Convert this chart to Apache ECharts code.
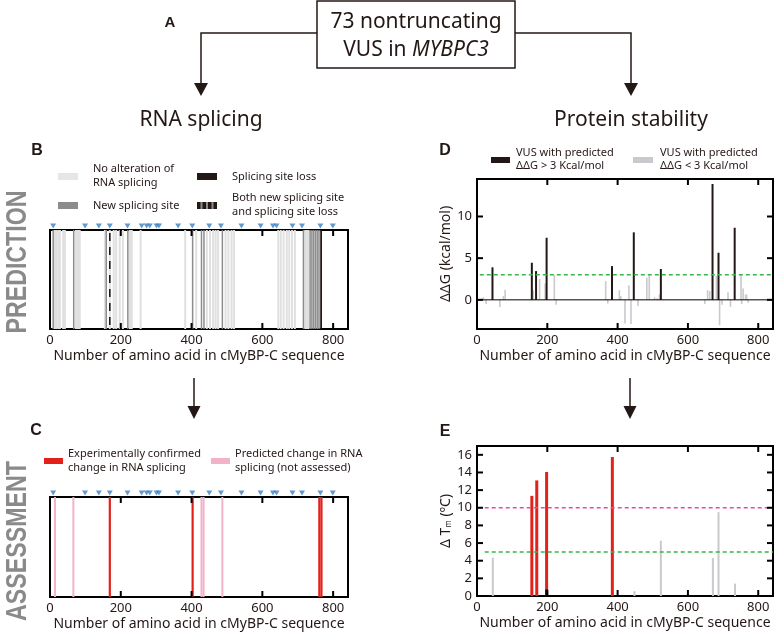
<!DOCTYPE html>
<html><head><meta charset="utf-8">
<script src="https://cdn.jsdelivr.net/npm/echarts@6/dist/echarts.min.js"></script>
<style>html,body{margin:0;padding:0;background:#fff}#c{width:777px;height:633px}</style>
</head><body><div id="c"></div>
<script>
// ---------- DATA ----------
const X_MAX = 842;
const xTickLabels = [0, 200, 400, 600, 800];
const xTickMarks = [200, 400, 600, 800];
// exon-boundary markers (blue triangles) above panels B and C
const exonMarks = [9, 99, 138, 169, 219, 259, 273, 282, 301, 308, 362, 402, 450, 483, 541, 595, 630, 640, 685, 712, 764, 799];
// Panel B: predicted splicing effects (amino-acid positions)
const bNoAlteration = [14, 19, 24, 28, 37, 42, 73, 77, 81, 84, 155, 180, 187, 197, 206, 226, 231, 256, 382, 413, 443, 452, 461, 468, 475, 496, 504, 513, 520, 645, 652, 660, 669, 676, 684, 692, 721, 726, 730];
const bNewSite = [9, 67, 159, 220, 403, 428, 435, 487, 716, 735, 740, 745, 750, 755, 760];
const bSiteLoss = [766];
const bBoth = [169];
// Panel C: assessment
const cConfirmed = [169, 403, 761, 767];
const cPredicted = [14, 66, 428, 434, 487];
// Panel D: ddG (kcal/mol)
const dHighPos = [44, 156, 168, 198, 384, 446, 523, 670, 687, 733];
const dHighVal = [3.9, 4.45, 3.45, 7.45, 4.05, 8.1, 3.7, 13.9, 5.65, 8.65];
const dLowPos = [18, 26, 65, 75, 80, 160, 178, 194, 220, 225, 366, 372, 405, 409, 421, 432, 438, 458, 483, 490, 505, 512, 519, 648, 656, 662, 681, 690, 697, 714, 721, 751, 753, 757, 764, 767, 771];
const dLowVal = [0.3, -0.5, -0.85, 0.45, 1.2, 1.15, 2.5, 1.95, 3.0, -0.6, 2.25, -0.45, 1.15, 0.45, -2.85, 1.75, -2.9, -0.75, 2.65, 2.95, 0.3, 0.2, 0.65, -0.5, 1.15, 1.05, 2.85, -3.05, -0.6, 0.9, -0.85, 3.0, -0.5, 1.35, 0.65, 0.6, -0.35];
const dThreshold = 3;
const dYMin = -3.5, dYMax = 14.5;
const dYLabels = [0, 5, 10];
// Panel E: delta Tm (degC)
const eRedPos = [156, 170, 198, 385];
const eRedVal = [11.35, 13.1, 14.05, 15.75];
const eGrayPos = [45, 448, 523, 671, 687, 734];
const eGrayVal = [4.35, 0.55, 6.25, 4.3, 9.5, 1.4];
const eDarkPos = [198];
const eDarkVal = [0.75];
const eThresholdHigh = 10;
const eThresholdLow = 5;
const eYMin = 0, eYMax = 17;
const eYLabels = [0, 2, 4, 6, 8, 10, 12, 14, 16];
const eYTickMarks = [2, 4, 6, 8, 10, 12, 14, 16];

// ---------- STYLE ----------
const FONT = "'Noto Sans', sans-serif";
const INK = '#231815';
const LIGHT = '#e0e0e0', MID = '#8c8c8c', BAR_LIGHT = '#c9c9ce', RED = '#e3211c', PINK = '#f2b3c8', GREEN = '#39b54a', MAGENTA = '#ec4a9c', BLUE = '#3b7fc4';
const TICK = '#000000';

const pairs = (xs, ys) => xs.map((x, i) => [x, ys[i]]);

function vline(color, width) {
  return function (params, api) {
    const x = api.value(0);
    const t = api.coord([x, 1]), b = api.coord([x, 0]);
    return { type: 'rect', shape: { x: t[0] - width / 2, y: t[1], width: width, height: b[1] - t[1] }, style: { fill: color } };
  };
}
function vdash(params, api) {
  const x = api.value(0);
  const t = api.coord([x, 1]), b = api.coord([x, 0]);
  return { type: 'group', children: [
    { type: 'rect', shape: { x: t[0] - 1, y: t[1], width: 2, height: b[1] - t[1] }, style: { fill: LIGHT } },
    { type: 'line', shape: { x1: t[0], y1: t[1] + 3, x2: b[0], y2: b[1] }, style: { stroke: INK, lineWidth: 1.6, lineDash: [8, 6] } }
  ] };
}
function vbar(color, width) {
  return function (params, api) {
    const x = api.value(0), y = api.value(1);
    const a = api.coord([x, 0]), b = api.coord([x, y]);
    return { type: 'rect', shape: { x: a[0] - width / 2, y: Math.min(a[1], b[1]), width: width, height: Math.abs(a[1] - b[1]) }, style: { fill: color } };
  };
}

const gridBase = { show: true, borderColor: '#000', borderWidth: 2, backgroundColor: 'rgba(0,0,0,0)' };
const noLine = { show: false, onZero: false };

function xBottom(gi) {
  return { type: 'value', gridIndex: gi, position: 'bottom', min: 0, max: X_MAX,
    axisLine: noLine, splitLine: { show: false }, axisTick: { show: false },
    axisLabel: { customValues: xTickLabels, fontSize: 13, color: INK, fontFamily: FONT, margin: 5 },
    name: 'Number of amino acid in cMyBP-C sequence', nameLocation: 'middle', nameGap: 20,
    nameTextStyle: { fontSize: 14, color: INK, fontFamily: FONT } };
}
function yHidden(gi) {
  return { type: 'value', gridIndex: gi, min: 0, max: 1, show: false, axisLine: noLine };
}

const markerSeries = (xi, yi) => ({
  type: 'scatter', xAxisIndex: xi, yAxisIndex: yi, clip: false, z: 12,
  symbol: 'path://M0,0L10,0L5,8Z', symbolSize: [6, 5], symbolOffset: [0, -4],
  itemStyle: { color: BLUE }, data: exonMarks.map(v => [v, 1]), silent: true
});

const option = {
  animation: false,
  backgroundColor: '#fff',
  grid: [
    Object.assign({ left: 50, top: 230, width: 298, height: 99 }, gridBase),
    Object.assign({ left: 50, top: 497, width: 298, height: 100 }, gridBase),
    Object.assign({ left: 477, top: 179, width: 296, height: 150 }, gridBase),
    Object.assign({ left: 477, top: 446, width: 296, height: 150 }, gridBase)
  ],
  xAxis: [xBottom(0), xBottom(1), xBottom(2), xBottom(3)],
  yAxis: [
    yHidden(0), yHidden(1),
    { type: 'value', gridIndex: 2, position: 'left', min: dYMin, max: dYMax, axisLine: noLine, splitLine: { show: false }, axisTick: { show: false },
      axisLabel: { customValues: dYLabels, fontSize: 13, color: INK, fontFamily: FONT, margin: 5 },
      name: 'ΔΔG (kcal/mol)', nameLocation: 'middle', nameRotate: 90, nameGap: 22,
      nameTextStyle: { fontSize: 14, color: INK, fontFamily: FONT } },
    { type: 'value', gridIndex: 3, position: 'left', min: eYMin, max: eYMax, axisLine: noLine, splitLine: { show: false }, axisTick: { show: false },
      axisLabel: { customValues: eYLabels, fontSize: 13, color: INK, fontFamily: FONT, margin: 5 },
      name: '{a|Δ T}{s|m}{a| (ºC)}', nameLocation: 'middle', nameRotate: 90, nameGap: 24,
      nameTextStyle: { color: INK, fontFamily: FONT, rich: { a: { fontSize: 14, fontFamily: FONT, color: INK }, s: { fontSize: 8, fontFamily: FONT, color: INK, padding: [6, 0, 0, 0] } } } }
  ],
  series: [
    // Panel B
    { type: 'custom', xAxisIndex: 0, yAxisIndex: 0, renderItem: vline(LIGHT, 2), data: bNoAlteration.map(v => [v, 1]) },
    { type: 'custom', xAxisIndex: 0, yAxisIndex: 0, renderItem: vline(MID, 1.5), data: bNewSite.map(v => [v, 1]) },
    { type: 'custom', xAxisIndex: 0, yAxisIndex: 0, renderItem: vline(INK, 1.8), data: bSiteLoss.map(v => [v, 1]) },
    { type: 'custom', xAxisIndex: 0, yAxisIndex: 0, renderItem: vdash, data: bBoth.map(v => [v, 1]) },
    markerSeries(0, 0),
    // Panel C
    { type: 'custom', xAxisIndex: 1, yAxisIndex: 1, renderItem: vline(PINK, 2), data: cPredicted.map(v => [v, 1]) },
    { type: 'custom', xAxisIndex: 1, yAxisIndex: 1, renderItem: vline(RED, 2.2), data: cConfirmed.map(v => [v, 1]) },
    markerSeries(1, 1),
    // Panel D
    { type: 'custom', xAxisIndex: 2, yAxisIndex: 2, renderItem: vbar(BAR_LIGHT, 1.6), data: pairs(dLowPos, dLowVal) },
    { type: 'custom', xAxisIndex: 2, yAxisIndex: 2, renderItem: vbar(INK, 2), data: pairs(dHighPos, dHighVal) },
    { type: 'line', xAxisIndex: 2, yAxisIndex: 2, symbol: 'none', z: 4, lineStyle: { color: '#000', width: 1 }, data: [[0, 0], [X_MAX, 0]] },
    { type: 'line', xAxisIndex: 2, yAxisIndex: 2, symbol: 'none', z: 5, lineStyle: { color: GREEN, width: 1.5, type: [4, 3] }, data: [[8, dThreshold], [X_MAX, dThreshold]] },
    // Panel E
    { type: 'custom', xAxisIndex: 3, yAxisIndex: 3, renderItem: vbar(BAR_LIGHT, 2), data: pairs(eGrayPos, eGrayVal) },
    { type: 'custom', xAxisIndex: 3, yAxisIndex: 3, renderItem: vbar(RED, 3), data: pairs(eRedPos, eRedVal) },
    { type: 'custom', xAxisIndex: 3, yAxisIndex: 3, renderItem: vbar(INK, 3), data: pairs(eDarkPos, eDarkVal) },
    { type: 'line', xAxisIndex: 3, yAxisIndex: 3, symbol: 'none', z: 5, lineStyle: { color: MAGENTA, width: 1.5, type: [4, 3] }, data: [[22, eThresholdHigh], [X_MAX, eThresholdHigh]] },
    { type: 'line', xAxisIndex: 3, yAxisIndex: 3, symbol: 'none', z: 5, lineStyle: { color: GREEN, width: 1.5, type: [4, 3] }, data: [[22, eThresholdLow], [X_MAX, eThresholdLow]] }
  ],
  graphic: [
    // flowchart
    { type: 'rect', shape: { x: 317, y: 1, width: 198, height: 67 }, style: { fill: 'none', stroke: INK, lineWidth: 1.5 } },
    { type: 'text', x: 416, y: 22, style: { text: '73 nontruncating', font: "21px 'Noto Sans'", fill: INK, align: 'center', verticalAlign: 'middle' } },
    { type: 'text', x: 416, y: 50, style: { text: '{n|VUS in }{i|MYBPC3}', align: 'center', verticalAlign: 'middle',
        rich: { n: { fontSize: 21, fontFamily: FONT, fill: INK }, i: { fontSize: 21, fontFamily: FONT, fontStyle: 'italic', fill: INK } } } },
    { type: 'polyline', shape: { points: [[317, 33], [201, 33], [201, 85]] }, style: { stroke: INK, lineWidth: 1.5, fill: 'none' } },
    { type: 'polygon', shape: { points: [[194, 83], [208, 83], [201, 96]] }, style: { fill: INK } },
    { type: 'polyline', shape: { points: [[515, 33], [631, 33], [631, 85]] }, style: { stroke: INK, lineWidth: 1.5, fill: 'none' } },
    { type: 'polygon', shape: { points: [[624, 83], [638, 83], [631, 96]] }, style: { fill: INK } },
    { type: 'text', x: 201, y: 120, style: { text: 'RNA splicing', font: "21px 'Noto Sans'", fill: INK, align: 'center', verticalAlign: 'middle' } },
    { type: 'text', x: 631, y: 120, style: { text: 'Protein stability', font: "21px 'Noto Sans'", fill: INK, align: 'center', verticalAlign: 'middle' } },
    // between-panel arrows
    { type: 'line', shape: { x1: 194, y1: 378, x2: 194, y2: 408 }, style: { stroke: INK, lineWidth: 1.5 } },
    { type: 'polygon', shape: { points: [[187.5, 406], [200.5, 406], [194, 419]] }, style: { fill: INK } },
    { type: 'line', shape: { x1: 630, y1: 378, x2: 630, y2: 408 }, style: { stroke: INK, lineWidth: 1.5 } },
    { type: 'polygon', shape: { points: [[623.5, 406], [636.5, 406], [630, 419]] }, style: { fill: INK } },
    // panel letters
    { type: 'text', x: 170, y: 23, style: { text: 'A', font: "bold 15px 'Liberation Sans'", fill: INK, align: 'center', verticalAlign: 'middle' } },
    { type: 'text', x: 37, y: 151, style: { text: 'B', font: "bold 16px 'Liberation Sans'", fill: INK, align: 'center', verticalAlign: 'middle' } },
    { type: 'text', x: 36, y: 431, style: { text: 'C', font: "bold 16px 'Liberation Sans'", fill: INK, align: 'center', verticalAlign: 'middle' } },
    { type: 'text', x: 445, y: 151, style: { text: 'D', font: "bold 16px 'Liberation Sans'", fill: INK, align: 'center', verticalAlign: 'middle' } },
    { type: 'text', x: 445, y: 432, style: { text: 'E', font: "bold 16px 'Liberation Sans'", fill: INK, align: 'center', verticalAlign: 'middle' } },
    // side labels
    { type: 'text', x: 17.5, y: 262, rotation: Math.PI / 2, scaleX: 0.8, style: { text: 'PREDICTION', font: "bold 29px 'Liberation Sans'", fill: '#8a8a8a', align: 'center', verticalAlign: 'middle' } },
    { type: 'text', x: 17.5, y: 541, rotation: Math.PI / 2, scaleX: 0.8, style: { text: 'ASSESSMENT', font: "bold 29px 'Liberation Sans'", fill: '#8a8a8a', align: 'center', verticalAlign: 'middle' } },
    // legend B
    { type: 'rect', shape: { x: 58, y: 173, width: 20, height: 7 }, style: { fill: '#e6e6e6' } },
    { type: 'text', x: 93, y: 176, style: { text: 'No alteration of\nRNA splicing', font: "11px 'Noto Sans'", lineHeight: 14, fill: INK, verticalAlign: 'middle' } },
    { type: 'rect', shape: { x: 58, y: 202, width: 20, height: 7 }, style: { fill: MID } },
    { type: 'text', x: 93, y: 205.5, style: { text: 'New splicing site', font: "11px 'Noto Sans'", fill: INK, verticalAlign: 'middle' } },
    { type: 'rect', shape: { x: 197, y: 173, width: 20, height: 7 }, style: { fill: INK } },
    { type: 'text', x: 232, y: 177, style: { text: 'Splicing site loss', font: "11px 'Noto Sans'", fill: INK, verticalAlign: 'middle' } },
    { type: 'rect', shape: { x: 197, y: 202, width: 20, height: 7 }, style: { fill: MID } },
    { type: 'rect', shape: { x: 197, y: 202, width: 3.5, height: 7 }, style: { fill: INK } },
    { type: 'rect', shape: { x: 202.5, y: 202, width: 3.5, height: 7 }, style: { fill: INK } },
    { type: 'rect', shape: { x: 208, y: 202, width: 3.5, height: 7 }, style: { fill: INK } },
    { type: 'rect', shape: { x: 213.5, y: 202, width: 3.5, height: 7 }, style: { fill: INK } },
    { type: 'text', x: 232, y: 205, style: { text: 'Both new splicing site\nand splicing site loss', font: "11px 'Noto Sans'", lineHeight: 14, fill: INK, verticalAlign: 'middle' } },
    // legend C
    { type: 'rect', shape: { x: 44, y: 458, width: 19, height: 6 }, style: { fill: RED } },
    { type: 'text', x: 68, y: 461, style: { text: 'Experimentally confirmed\nchange in RNA splicing', font: "11px 'Noto Sans'", lineHeight: 14, fill: INK, verticalAlign: 'middle' } },
    { type: 'rect', shape: { x: 211, y: 458, width: 19, height: 6 }, style: { fill: PINK } },
    { type: 'text', x: 235, y: 461, style: { text: 'Predicted change in RNA\nsplicing (not assessed)', font: "11px 'Noto Sans'", lineHeight: 14, fill: INK, verticalAlign: 'middle' } },
    // legend D
    { type: 'rect', shape: { x: 491, y: 157, width: 19, height: 6 }, style: { fill: INK } },
    { type: 'text', x: 516, y: 159.5, style: { text: 'VUS with predicted\nΔΔG > 3 Kcal/mol', font: "11px 'Noto Sans'", lineHeight: 13.5, fill: INK, verticalAlign: 'middle' } },
    { type: 'rect', shape: { x: 633, y: 157, width: 20, height: 6 }, style: { fill: BAR_LIGHT } },
    { type: 'text', x: 660, y: 159.5, style: { text: 'VUS with predicted\nΔΔG < 3 Kcal/mol', font: "11px 'Noto Sans'", lineHeight: 13.5, fill: INK, verticalAlign: 'middle' } }
  ]
};

const chart = echarts.init(document.getElementById('c'), null, { renderer: 'canvas' });
chart.setOption(option);

// Inside tick marks: positions from the axes' own scales (convertToPixel)
const TL = 6, TW = 2;
const tickSpecs = [
  { g: 0, xs: xTickMarks, ys: [], y0: 0, y1: 1 },
  { g: 1, xs: xTickMarks, ys: [], y0: 0, y1: 1 },
  { g: 2, xs: xTickMarks, ys: dYLabels, y0: dYMin, y1: dYMax },
  { g: 3, xs: xTickMarks, ys: eYTickMarks, y0: eYMin, y1: eYMax }
];
const tickGraphics = [];
tickSpecs.forEach(s => {
  s.xs.forEach(v => {
    const a = chart.convertToPixel({ gridIndex: s.g }, [v, s.y0]);
    const b = chart.convertToPixel({ gridIndex: s.g }, [v, s.y1]);
    tickGraphics.push({ type: 'rect', z: 100, shape: { x: a[0] - TW / 2, y: a[1] - TL, width: TW, height: TL }, style: { fill: TICK } });
    tickGraphics.push({ type: 'rect', z: 100, shape: { x: b[0] - TW / 2, y: b[1], width: TW, height: TL }, style: { fill: TICK } });
  });
  s.ys.forEach(v => {
    const a = chart.convertToPixel({ gridIndex: s.g }, [0, v]);
    const b = chart.convertToPixel({ gridIndex: s.g }, [X_MAX, v]);
    tickGraphics.push({ type: 'rect', z: 100, shape: { x: a[0], y: a[1] - TW / 2, width: TL, height: TW }, style: { fill: TICK } });
    tickGraphics.push({ type: 'rect', z: 100, shape: { x: b[0] - TL, y: b[1] - TW / 2, width: TL, height: TW }, style: { fill: TICK } });
  });
});
chart.setOption({ graphic: option.graphic.concat(tickGraphics) });
</script>
</body></html>
